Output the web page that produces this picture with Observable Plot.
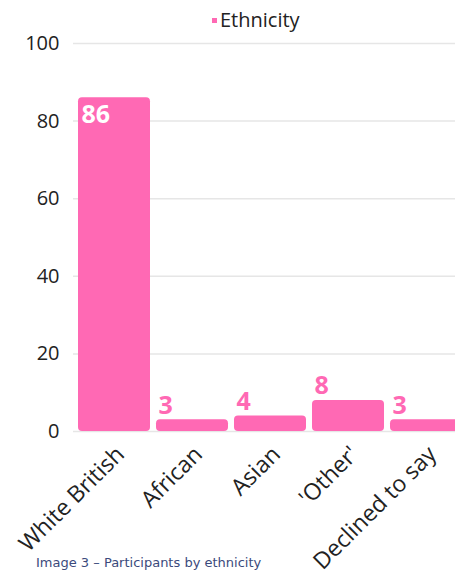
<!DOCTYPE html>
<html>
<head>
<meta charset="utf-8">
<script src="https://cdn.jsdelivr.net/npm/d3@7"></script>
<script src="https://cdn.jsdelivr.net/npm/@observablehq/plot@0.6"></script>
<style>
  html, body { margin: 0; padding: 0; width: 455px; height: 575px; overflow: hidden; background: #fff; }
  #wrap { position: relative; width: 455px; height: 575px; overflow: hidden; }
  #chart { position: absolute; left: 0; top: 0; }
  #chart svg { max-width: none !important; }
  #legend { position: absolute; top: 6px; left: 212px; font-family: "Open Sans", sans-serif; font-size: 20px; color: #222; display: flex; align-items: center; }
  #legend .sw { width: 5px; height: 5px; background: #ff69b4; margin-right: 3px; margin-top: 2px; }
  #caption { position: absolute; left: 36px; top: 555px; font-family: "DejaVu Sans", sans-serif; font-size: 13px; color: #3b4a7c; }
</style>
</head>
<body>
<div id="wrap">
  <div id="legend"><span class="sw"></span><span>Ethnicity</span></div>
  <div id="chart"></div>
  <div id="caption">Image 3 – Participants by ethnicity</div>
</div>
<script>
const categories = ["White British", "African", "Asian", "'Other'", "Declined to say"];
const values = [86, 3, 4, 8, 3];
const yTicks = [0, 20, 40, 60, 80, 100];
const seriesName = "Ethnicity";

const data = categories.map((c, i) => ({category: c, value: values[i]}));
const pink = "#ff69b4";

const chart = Plot.plot({
  width: 466,
  height: 575,
  marginLeft: 73,
  marginRight: 0,
  marginTop: 43,
  marginBottom: 144,
  style: {fontFamily: "'Open Sans', sans-serif", fontSize: "19px", color: "#222", background: "transparent", maxWidth: "none"},
  x: {domain: categories, paddingInner: 0.08, paddingOuter: 0.04, label: null},
  y: {domain: [0, 100], ticks: yTicks, label: null},
  marks: [
    Plot.gridY(yTicks, {stroke: "#e6e6e6", strokeOpacity: 1, strokeWidth: 1.5}),
    Plot.axisY({ticks: yTicks, tickSize: 0, tickPadding: 14, fontSize: 20, label: null}),
    Plot.axisX({tickSize: 0, tickRotate: -45, tickPadding: 19, dx: 6, fontSize: 23, label: null}),
    Plot.barY(data, {x: "category", y: "value", fill: pink, rx: 4}),
    Plot.text(data.filter(d => d.value > 50), {
      x: "category", y: "value", text: d => String(d.value),
      dx: -33, dy: 17, textAnchor: "start", fill: "white", fontWeight: "bold", fontSize: 25
    }),
    Plot.text(data.filter(d => d.value <= 50), {
      x: "category", y: "value", text: d => String(d.value),
      dx: -34, dy: -14, textAnchor: "start", fill: pink, fontWeight: "bold", fontSize: 25
    })
  ]
});
document.getElementById("chart").appendChild(chart);
</script>
</body>
</html>
